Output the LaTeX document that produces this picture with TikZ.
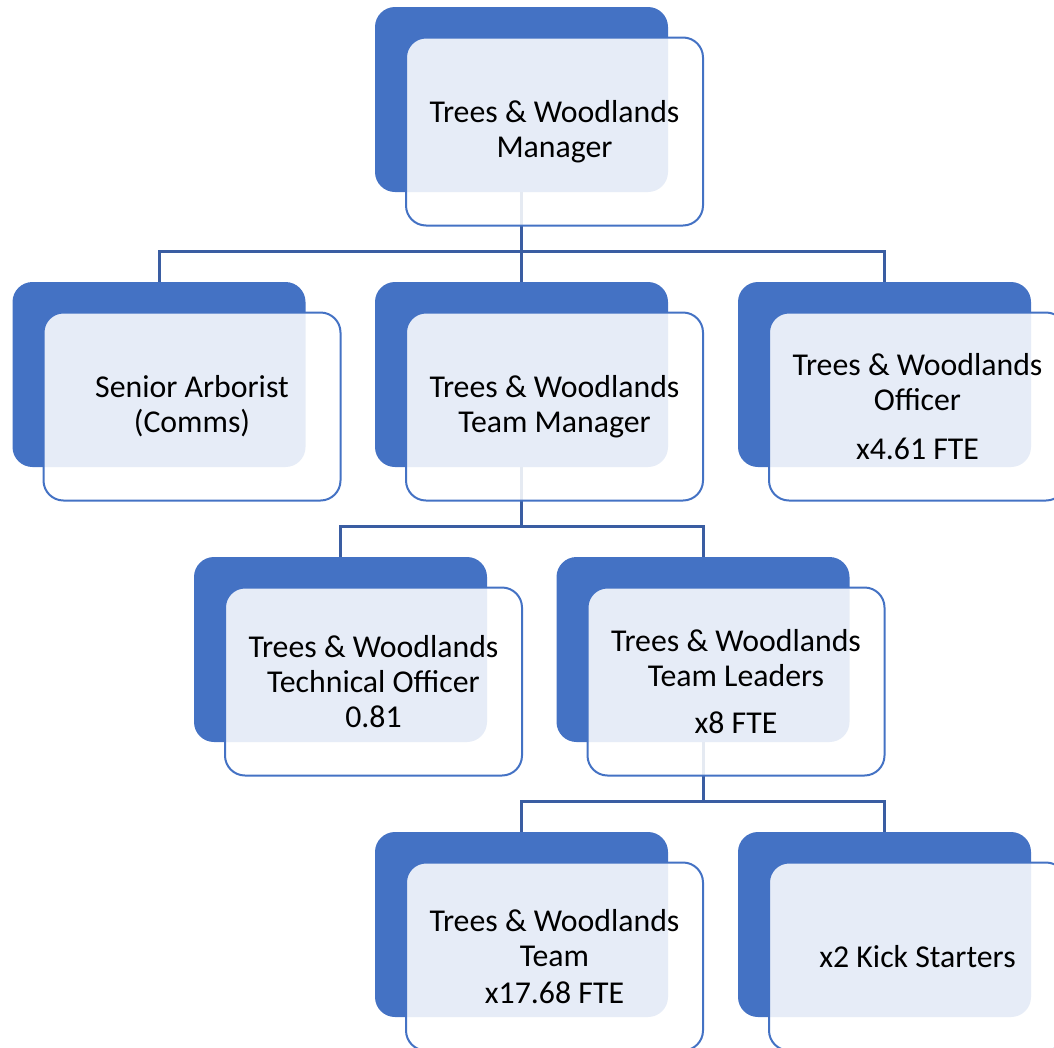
\documentclass[tikz,border=0pt]{standalone}
\usepackage{fontspec}
\setmainfont{Carlito}
\definecolor{boxblue}{HTML}{4472C4}
\definecolor{lineblue}{HTML}{3A5DA2}

\begin{document}
\begin{tikzpicture}[x=1pt,y=1pt]
        \tikzstyle{every node} = [rectangle, rounded corners=20pt, inner sep=0pt]
        \tikzstyle{back} = [fill=boxblue, minimum width=293pt, minimum height=185pt]
        \tikzstyle{front} = [draw=boxblue, line width=2pt, fill=white, fill opacity=0.87, text opacity=1,
            minimum width=297pt, minimum height=188pt, align=center, font=\fontsize{31.8}{35}\selectfont]
        \useasboundingbox (0,0) rectangle (1054,-1047);

        % blue boxes
        \node[back] (b0) at (521.5,-99.5) {};
        \node[back] (b1) at (159,-374.5) {};
        \node[back] (b2) at (521.5,-374.5) {};
        \node[back] (b3) at (884.5,-374.5) {};
        \node[back] (b4) at (340.5,-649.5) {};
        \node[back] (b5) at (703,-649.5) {};
        \node[back] (b6) at (521.5,-924.5) {};
        \node[back] (b7) at (884.5,-924.5) {};

        \foreach \from/\to in {b0/b1, b0/b2, b0/b3, b2/b4, b2/b5, b5/b6, b5/b7}
            \draw[lineblue, line width=3pt] (\from.south) -- ++(0,-59) -| (\to.north);

        % text boxes
        \node[front] (f0) at ([shift={(33,-32)}]b0.center) {Trees \& Woodlands\\Manager};
        \node[front] (f1) at ([shift={(33,-32)}]b1.center) {Senior Arborist\\(Comms)};
        \node[front] (f2) at ([shift={(33,-32)}]b2.center) {Trees \& Woodlands\\Team Manager};
        \node[front] (f3) at ([shift={(33,-32)}]b3.center) {Trees \& Woodlands\\Officer\\[14pt]x4.61 FTE};
        \node[front] (f4) at ([shift={(33,-32)}]b4.center) {Trees \& Woodlands\\Technical Officer\\0.81};
        \node[front] (f5) at ([shift={(33,-32)}]b5.center) {Trees \& Woodlands\\Team Leaders\\[12pt]x8 FTE};
        \node[front] (f6) at ([shift={(33,-32)}]b6.center) {Trees \& Woodlands\\Team\\[2pt]x17.68 FTE};
        \node[front] (f7) at ([shift={(33,-32)}]b7.center) {x2 Kick Starters};
      \end{tikzpicture}
\end{document}
